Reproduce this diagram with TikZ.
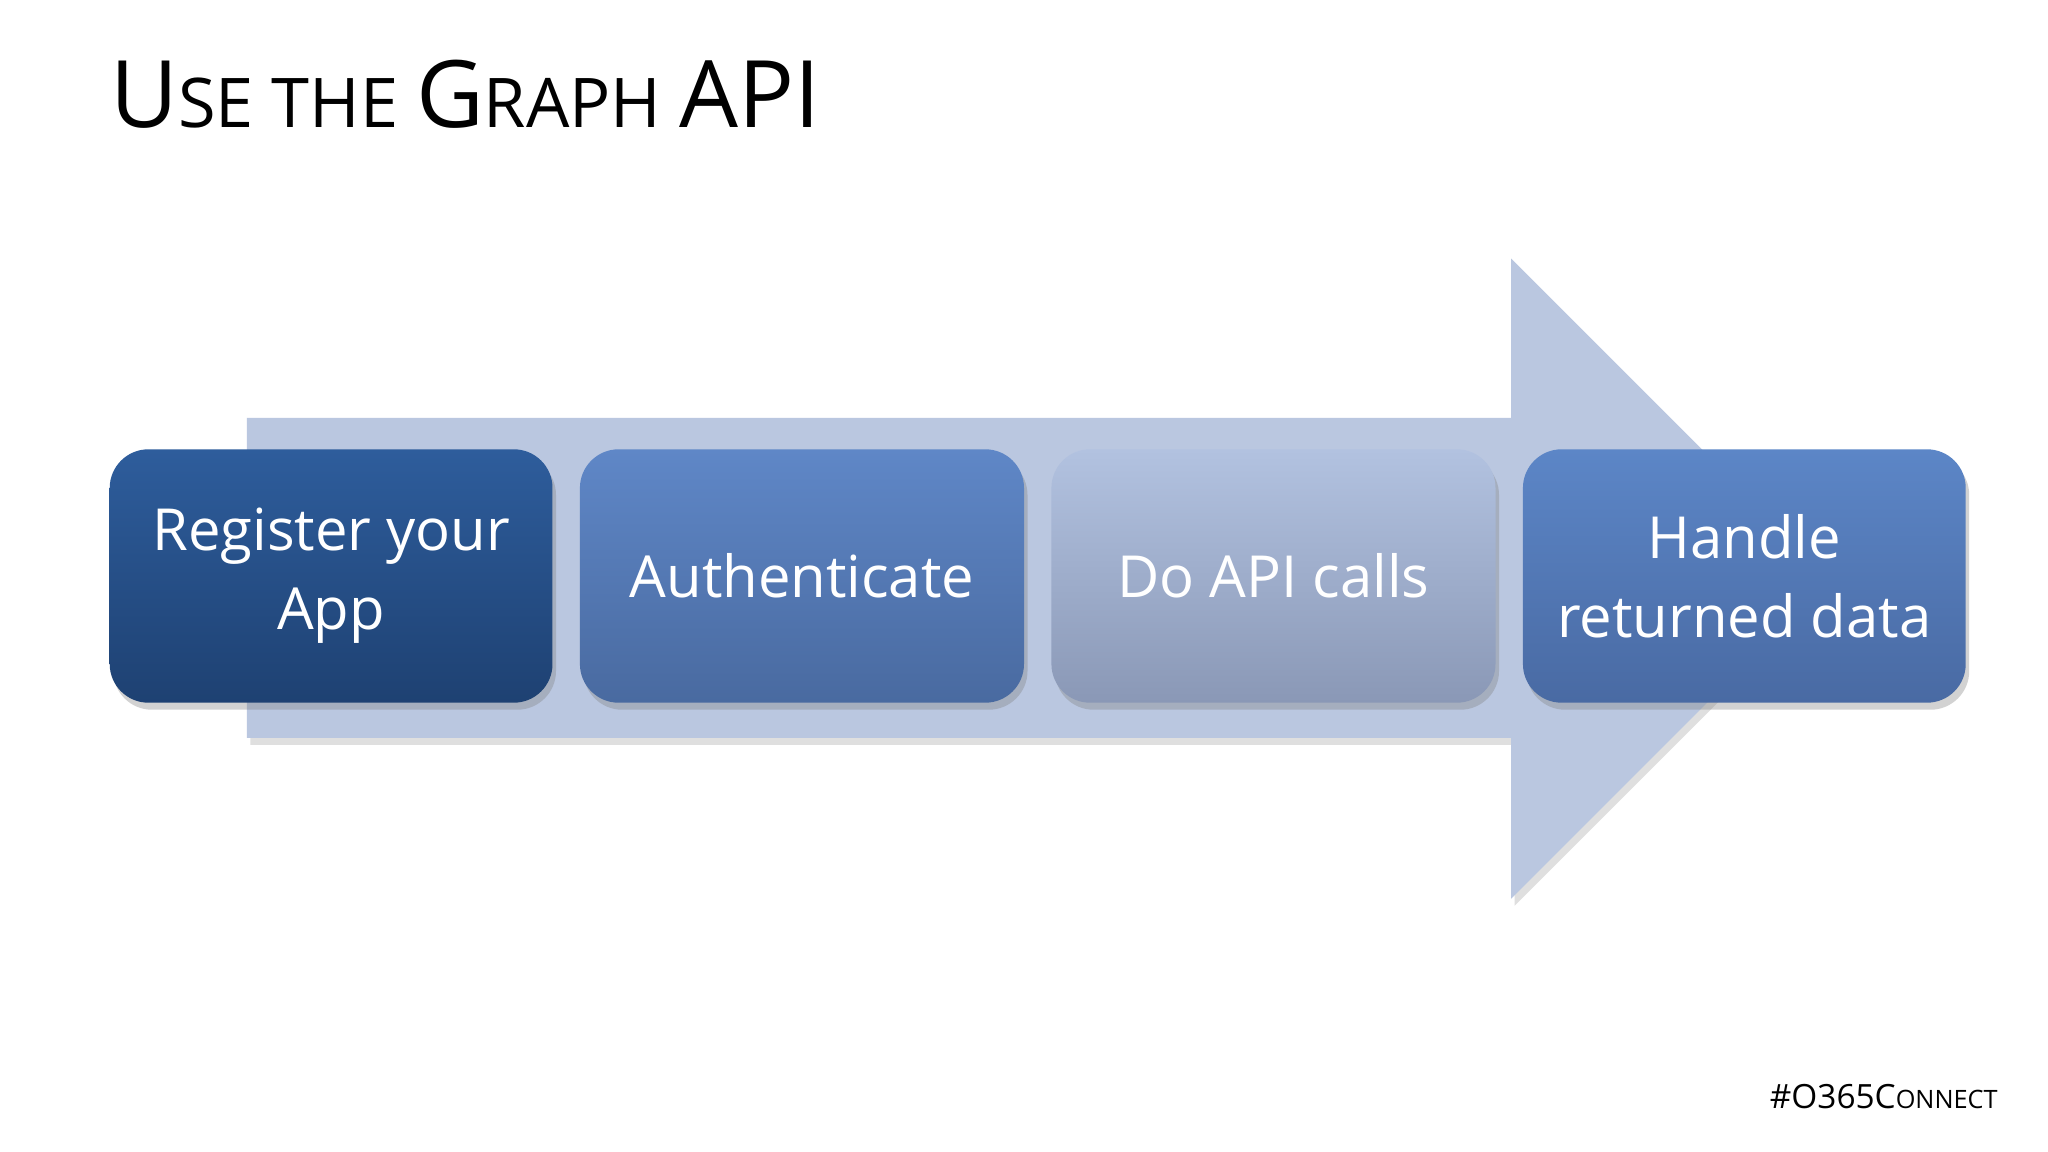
\documentclass[tikz,border=0pt]{standalone}
\usepackage{fontspec}
\setmainfont{Open Sans}
\usetikzlibrary{shadows}
\definecolor{arr}{HTML}{BAC7E0}
\begin{document}
\begin{tikzpicture}[x=0.013061cm,y=-0.013061cm,
  box/.style={rounded corners=11pt,drop shadow={opacity=0.35,shadow xshift=1pt,shadow yshift=-2pt}},
  lab/.style={text=white,font=\fontsize{16.5}{22.5}\selectfont,align=center}]
\useasboundingbox (0,0) rectangle (1568,882);
\fill[white] (0,0) rectangle (1568,882);
\node[anchor=base west,inner sep=0] (title) at (84,98) {{\fontsize{26.5}{36}\selectfont U}{\fontsize{19.5}{36}\selectfont SE THE }{\fontsize{26.5}{36}\selectfont G}{\fontsize{19.5}{36}\selectfont RAPH }{\fontsize{26.5}{36}\selectfont API}};
\fill[arr,drop shadow={opacity=0.25,shadow xshift=1pt,shadow yshift=-2pt}] (189,320) -- (1157,320) -- (1157,198) -- (1402,443) -- (1157,688) -- (1157,565) -- (189,565) -- cycle;
\shade[box,top color={rgb,255:red,46;green,93;blue,156},bottom color={rgb,255:red,30;green,65;blue,114}] (84,344) rectangle (423,538);
\shade[box,top color={rgb,255:red,95;green,135;blue,199},bottom color={rgb,255:red,73;green,106;blue,160}] (444,344) rectangle (784,538);
\shade[box,top color={rgb,255:red,178;green,194;blue,224},bottom color={rgb,255:red,138;green,152;blue,182}] (805,344) rectangle (1145,538);
\shade[box,top color={rgb,255:red,92;green,134;blue,199},bottom color={rgb,255:red,73;green,106;blue,163}] (1166,344) rectangle (1505,538);
\node[lab] (b1) at (253.5,441) {Register your\\App};
\node[lab] (b2) at (614,441) {Authenticate};
\node[lab] (b3) at (975,441) {Do API calls};
\node[lab] (b4) at (1335.5,441) {Handle\\returned data};
\node[anchor=base east,inner sep=0] (foot) at (1530,849) {{\fontsize{9.5}{14}\selectfont \#O365C}{\fontsize{7.2}{14}\selectfont ONNECT}};
\end{tikzpicture}
\end{document}
